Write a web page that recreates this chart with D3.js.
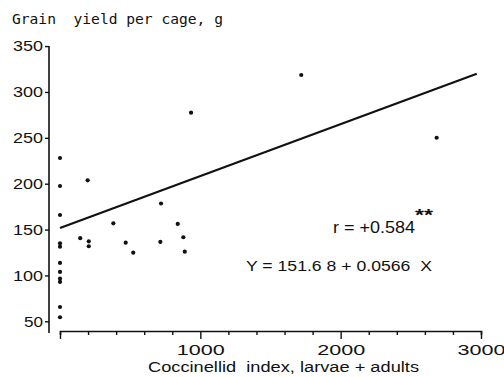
<!DOCTYPE html>
<html>
<head>
<meta charset="utf-8">
<script src="https://cdn.jsdelivr.net/npm/d3@7"></script>
<style>
    body { margin: 0; background: #fff; }
    #chart { width: 504px; height: 377px; }
    text { fill: #111; font-family: "Liberation Sans", "DejaVu Sans", sans-serif; white-space: pre; }
</style>
</head>
<body>
<div id="chart"></div>
<script>
// coccinellid index (larvae + adults) and grain yield per cage (g)
const coccIndex = [0, 0, 197, 0, 720, 380, 144, 0, 0, 205, 205, 468, 522, 715,
    0, 0, 0, 0, 0, 0, 839, 879, 889, 934, 1719, 2684];
const grainYield = [228, 197.5, 203.7, 165.9, 178.4, 156.8, 140.6, 135, 131.3, 137.2, 131.8, 135.7, 124.8, 136.5,
    113.6, 103.8, 96.5, 92.9, 65.6, 54.4, 156.1, 141.6, 125.9, 277.4, 318.5, 250.1];

// regression Y = a + b X
const regression = [151.68, 0.0566];
const lineSpan = [0, 2970];

const yTicks = [50, 100, 150, 200, 250, 300, 350];
const xMajorTicks = [0, 1000, 2000, 3000];
const xMinorTicks = [200, 400, 600, 800, 1200, 1400, 1600, 1800, 2200, 2400, 2600, 2800];

const width = 504;
const height = 377;

const svg = d3.select("#chart")
    .append("svg")
    .attr("width", width)
    .attr("height", height);

const xScale = d3.scaleLinear()
    .domain([0, 3000])
    .range([60, 481]);

const yScale = d3.scaleLinear()
    .domain([50, 350])
    .range([321.3, 46.1]);

const xAxisY = 331;

// y axis: plain vertical line down to the x axis level, short ticks on the left
const yAxis = svg.append("g")
    .attr("transform", "translate(49,0)")
    .call(d3.axisLeft(yScale).tickValues(yTicks).tickSize(4).tickPadding(2));
yAxis.select(".domain").remove();
yAxis.append("line")
    .attr("x1", 0).attr("x2", 0)
    .attr("y1", yScale(350)).attr("y2", xAxisY + 2)
    .attr("stroke", "#111").attr("stroke-width", 1.6);
yAxis.selectAll(".tick line").attr("stroke", "#111").attr("stroke-width", 1.4);
yAxis.selectAll(".tick text")
    .attr("fill", "#111")
    .style("font-size", "15px")
    .attr("textLength", function(d) { return d < 100 ? 19 : 30; })
    .attr("lengthAdjust", "spacingAndGlyphs");

// x axis: minor ticks every 200, longer ticks at every 1000
const xMinor = svg.append("g")
    .attr("transform", `translate(0,${xAxisY})`)
    .call(d3.axisBottom(xScale).tickValues(xMinorTicks).tickSize(4).tickFormat(""));
xMinor.select(".domain").attr("stroke", "#111").attr("stroke-width", 1.6);
xMinor.selectAll(".tick line").attr("stroke", "#111").attr("stroke-width", 1.4);

const xMajor = svg.append("g")
    .attr("transform", `translate(0,${xAxisY})`)
    .call(d3.axisBottom(xScale).tickValues(xMajorTicks).tickSize(8).tickPadding(5)
        .tickFormat(function(d) { return d === 0 ? "" : d; }));
xMajor.select(".domain").remove();
xMajor.selectAll(".tick line").attr("stroke", "#111").attr("stroke-width", 1.4);
xMajor.selectAll(".tick text")
    .attr("fill", "#111")
    .style("font-size", "15px")
    .attr("textLength", function(d) { return d === 0 ? null : 48; })
    .attr("lengthAdjust", "spacingAndGlyphs");

// regression line
svg.append("line")
    .attr("x1", xScale(lineSpan[0]))
    .attr("y1", yScale(regression[0] + regression[1] * lineSpan[0]))
    .attr("x2", xScale(lineSpan[1]))
    .attr("y2", yScale(regression[0] + regression[1] * lineSpan[1]))
    .attr("stroke", "#111")
    .attr("stroke-width", 2.2);

// points
svg.selectAll("circle.pt")
    .data(coccIndex)
    .enter()
    .append("circle")
        .attr("class", "pt")
        .attr("cx", function(d) { return xScale(d); })
        .attr("cy", function(d, i) { return yScale(grainYield[i]); })
        .attr("r", 2.1)
        .attr("fill", "#111");

// titles
svg.append("text")
    .attr("x", 12)
    .attr("y", 24)
    .style("font-family", "'DejaVu Sans Mono', monospace")
    .style("font-size", "14px")
    .attr("textLength", 211)
    .attr("lengthAdjust", "spacingAndGlyphs")
    .text("Grain  yield per cage, g");

svg.append("text")
    .attr("x", 148)
    .attr("y", 372)
    .style("font-size", "14px")
    .attr("textLength", 271)
    .attr("lengthAdjust", "spacingAndGlyphs")
    .text("Coccinellid  index, larvae + adults");

// annotations
svg.append("text")
    .attr("x", 333)
    .attr("y", 233)
    .style("font-size", "16px")
    .attr("textLength", 82)
    .attr("lengthAdjust", "spacingAndGlyphs")
    .text("r = +0.584");

svg.append("text")
    .attr("x", 415)
    .attr("y", 221)
    .style("font-size", "17px")
    .style("font-weight", "bold")
    .attr("textLength", 18)
    .attr("lengthAdjust", "spacingAndGlyphs")
    .text("**");

svg.append("text")
    .attr("x", 246)
    .attr("y", 271)
    .style("font-size", "14px")
    .attr("textLength", 186)
    .attr("lengthAdjust", "spacingAndGlyphs")
    .text("Y = 151.6 8 + 0.0566  X");
</script>
</body>
</html>
